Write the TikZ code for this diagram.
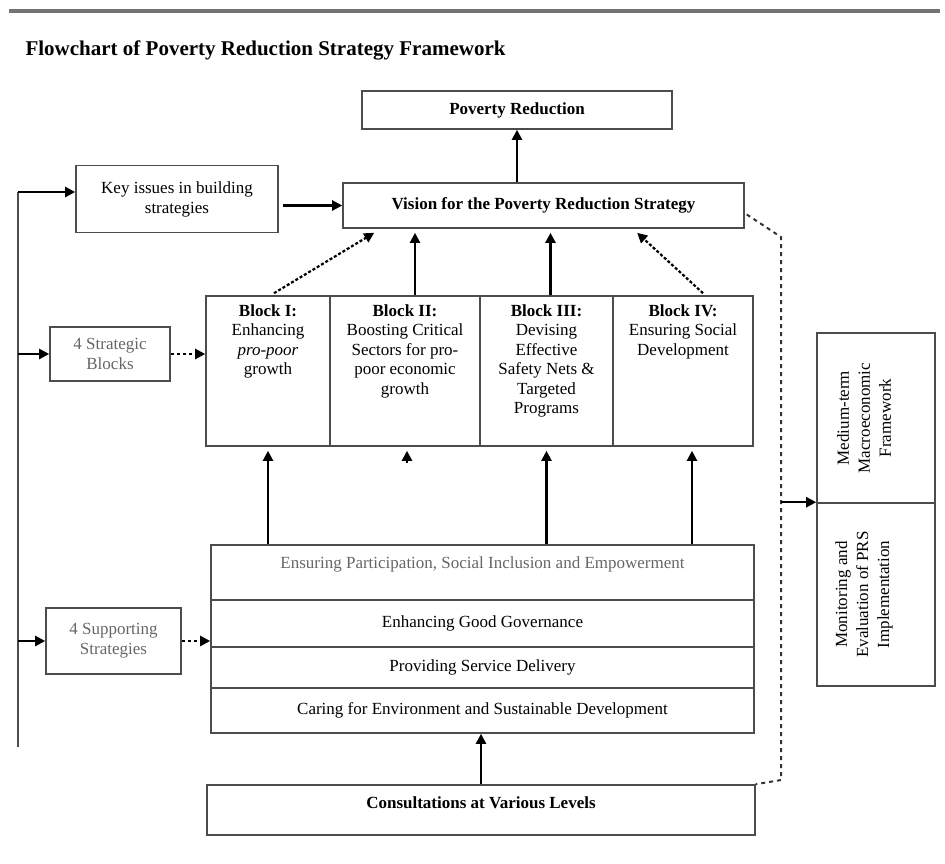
\documentclass[tikz,border=0pt]{standalone}
\usepackage{fontspec}
\setmainfont{Liberation Serif}
\usetikzlibrary{arrows.meta,calc}
\begin{document}
\begin{tikzpicture}[x=1pt,y=-1pt,
  box/.style={draw=black!70,line width=1.6pt,inner sep=2pt,align=center,font=\fontsize{17}{20}\selectfont},
  txt/.style={align=center,font=\fontsize{17}{19.5}\selectfont,inner sep=0pt},
  arr/.style={line width=2.2pt,-{Triangle[length=10pt,width=10pt]}},
  dotarr/.style={arr,dash pattern=on 3pt off 3pt},
  dotline/.style={line width=2pt,black!80,dash pattern=on 4pt off 4pt}]
\useasboundingbox (0,0) rectangle (945,863);
\draw[line width=4pt,black!55] (9,11) -- (940,11);
\node[anchor=west,font=\fontsize{21}{24}\selectfont\bfseries] (title) at (22,50) {Flowchart of Poverty Reduction Strategy Framework};
% top boxes
\node[box,minimum width=310,minimum height=38] (pov) at (517,110) {\bfseries Poverty Reduction};
\node[box,minimum width=401,minimum height=45] (vis) at (543.5,205.5) {\bfseries Vision for the Poverty Reduction Strategy};
\node[box,minimum width=202,minimum height=67] (key) at (177,199) {Key issues in building\\strategies};
\node[box,minimum width=120,minimum height=54,text=black!60] (sb) at (110,354) {4 Strategic\\Blocks};
% strategic blocks
\node[box,minimum width=124,minimum height=150] (b1) at (268,371) {};
\node[box,minimum width=150,minimum height=150] (b2) at (405,371) {};
\node[box,minimum width=133,minimum height=150] (b3) at (546.5,371) {};
\node[box,minimum width=140,minimum height=150] (b4) at (683,371) {};
\node[txt,anchor=north] (t1) at ($(b1.north)+(0,9)$) {\textbf{Block I:}\\Enhancing\\\textit{pro-poor}\\growth};
\node[txt,anchor=north] (t2) at ($(b2.north)+(0,9)$) {\textbf{Block II:}\\Boosting Critical\\Sectors for pro-\\poor economic\\growth};
\node[txt,anchor=north] (t3) at ($(b3.north)+(0,9)$) {\textbf{Block III:}\\Devising\\Effective\\Safety Nets \&\\Targeted\\Programs};
\node[txt,anchor=north] (t4) at ($(b4.north)+(0,9)$) {\textbf{Block IV:}\\Ensuring Social\\Development};
% supporting strategies
\node[box,minimum width=543,minimum height=55,text depth=20pt,text=black!60] (s1) at (482.5,572.5) {Ensuring Participation, Social Inclusion and Empowerment};
\node[box,minimum width=543,minimum height=47] (s2) at (482.5,623.5) {Enhancing Good Governance};
\node[box,minimum width=543,minimum height=41] (s3) at (482.5,667.5) {Providing Service Delivery};
\node[box,minimum width=543,minimum height=45] (s4) at (482.5,710.5) {Caring for Environment and Sustainable Development};
\node[box,minimum width=135,minimum height=66,text=black!60] (sup) at (113.5,641) {4 Supporting\\Strategies};
\node[box,minimum width=548,minimum height=50,text depth=14pt] (con) at (481,810) {\bfseries Consultations at Various Levels};
% right side
\node[box,minimum width=118,minimum height=170] (mtf) at (876,418) {};
\node[box,minimum width=118,minimum height=183] (mon) at (876,594.5) {};
\node[txt,rotate=90,font=\fontsize{17}{21}\selectfont] (mtft) at ($(mtf)+(-12,0)$) {Medium-term\\Macroeconomic\\Framework};
\node[txt,rotate=90,font=\fontsize{17}{21}\selectfont] (mont) at ($(mon)+(-12,0)$) {Monitoring and\\Evaluation of PRS\\Implementation};
% left feed line
\coordinate (lt) at (18,192);
\coordinate (lb) at (18,747);
\draw[line width=2pt,black!70] (lt) -- (lb);
\draw[arr] (lt) -- (lt -| key.west);
\draw[arr] (lt |- sb.west) -- (sb.west);
\draw[arr] (lt |- sup.west) -- (sup.west);
\draw[arr,shorten <=4pt] (key.east |- vis.west) -- (vis.west);
\draw[dotarr] (sb.east) -- (sb.east -| b1.west);
\draw[dotarr] (sup.east) -- (sup.east -| s2.west);
% upward arrows
\draw[arr] (pov.south |- vis.north) -- (pov.south);
\draw[arr,dash pattern=on 3pt off 2pt] ($(b1.north)+(6,-2)$) -- ($(vis.south west)+(32,4)$);
\draw[arr,shorten >=4pt] ($(b2.north)+(10,0)$) coordinate (a2) -- (a2 |- vis.south);
\draw[arr,shorten >=4pt] ($(b3.north)+(4,0)$) coordinate (a3) -- (a3 |- vis.south);
\draw[arr,dash pattern=on 3pt off 2pt] ($(b4.north)+(20,-2)$) -- ($(vis.south west)+(295,4)$);
\coordinate (c4) at ($(b4.south)+(9,0)$);
\draw[arr,shorten >=4pt] (b1.south |- s1.north) -- (b1.south);
\draw[arr,shorten >=4pt] ($(b2.south)+(2,16)$) -- ($(b2.south)+(2,0)$);
\draw[arr,shorten >=4pt] (b3.south |- s1.north) -- (b3.south);
\draw[arr,shorten >=4pt] (c4 |- s1.north) -- (c4);
\draw[arr] (con.north) -- (con.north |- s4.south);
% dotted link to the right
\coordinate (dt) at (781,237);
\coordinate (db) at (781,780);
\draw[dotline] ($(vis.east)+(2,9)$) -- (dt) -- (db) -- (con.north east);
\draw[arr] (dt |- mon.north) -- (mon.north west);
\end{tikzpicture}
\end{document}
